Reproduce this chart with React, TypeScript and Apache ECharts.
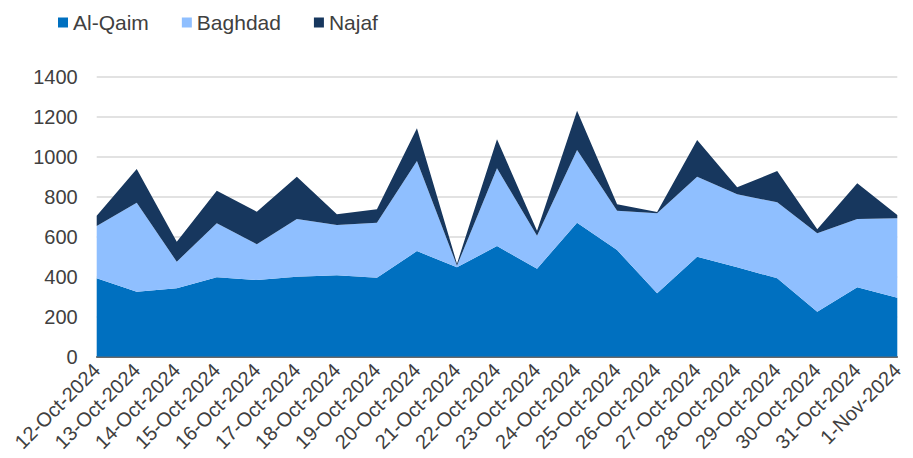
import React, { useEffect, useRef } from "react";
import * as echarts from "echarts";

const categories = [
  "12-Oct-2024", "13-Oct-2024", "14-Oct-2024", "15-Oct-2024", "16-Oct-2024",
  "17-Oct-2024", "18-Oct-2024", "19-Oct-2024", "20-Oct-2024", "21-Oct-2024",
  "22-Oct-2024", "23-Oct-2024", "24-Oct-2024", "25-Oct-2024", "26-Oct-2024",
  "27-Oct-2024", "28-Oct-2024", "29-Oct-2024", "30-Oct-2024", "31-Oct-2024",
  "1-Nov-2024",
];

const alQaim = [392, 325, 342, 397, 383, 400, 407, 395, 528, 447, 553, 440, 670, 533, 317, 500, 447, 392, 225, 347, 295];
const baghdad = [261, 445, 133, 270, 179, 288, 251, 275, 450, 8, 389, 165, 363, 197, 400, 400, 365, 380, 392, 341, 397];
const najaf = [52, 168, 100, 163, 163, 212, 54, 67, 164, 10, 145, 25, 197, 32, 6, 183, 35, 156, 20, 179, 16];

const seriesNames = ["Al-Qaim", "Baghdad", "Najaf"];
const seriesColors = ["#0070C0", "#8FBFFF", "#17375E"];

export default function App() {
  const ref = useRef<HTMLDivElement>(null);

  useEffect(() => {
    if (!ref.current) return;
    const chart = echarts.init(ref.current, null, { renderer: "svg" });
    const dataSets = [alQaim, baghdad, najaf];
    chart.setOption({
      animation: false,
      color: seriesColors,
      textStyle: { fontFamily: "Liberation Sans, Arial, sans-serif" },
      legend: {
        left: 58,
        top: 12,
        padding: 0,
        itemWidth: 10,
        itemHeight: 10,
        itemGap: 33,
        icon: "rect",
        textStyle: { fontSize: 21, color: "#404040" },
        data: seriesNames,
      },
      grid: { left: 96.7, right: 15.7, top: 76.7, bottom: 101.3, containLabel: false },
      xAxis: {
        type: "category",
        data: categories,
        boundaryGap: false,
        axisLine: { show: true, lineStyle: { color: "#404040", width: 1.5 } },
        axisTick: { show: false },
        axisLabel: {
          rotate: 45,
          interval: 0,
          fontSize: 20,
          color: "#404040",
          margin: 10,
        },
        splitLine: { show: false },
      },
      yAxis: {
        type: "value",
        min: 0,
        max: 1400,
        interval: 200,
        axisLine: { show: false },
        axisTick: { show: false },
        axisLabel: { fontSize: 20, color: "#404040", margin: 19, formatter: (v: number) => String(v) },
        splitLine: { lineStyle: { color: "#D9D9D9", width: 1.5 } },
      },
      series: dataSets.map((d, i) => ({
        name: seriesNames[i],
        type: "line",
        stack: "total",
        data: d,
        symbol: "none",
        lineStyle: { width: 0 },
        areaStyle: { opacity: 1, color: seriesColors[i] },
        itemStyle: { color: seriesColors[i] },
      })),
    });
    return () => chart.dispose();
  }, []);

  return <div ref={ref} style={{ width: 913, height: 458, position: "absolute", left: 0, top: 0 }} />;
}
